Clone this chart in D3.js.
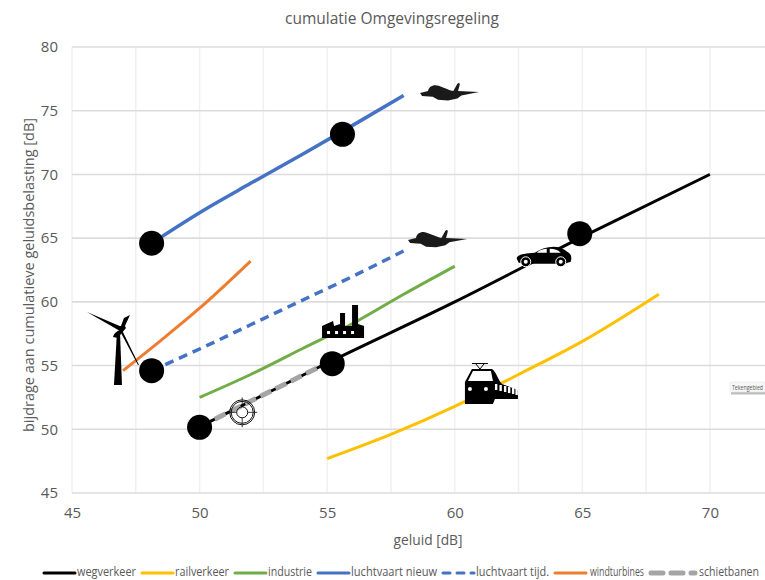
<!DOCTYPE html>
<html>
<head>
<meta charset="utf-8">
<script src="https://cdn.jsdelivr.net/npm/d3@7"></script>
<style>
  html, body { margin: 0; padding: 0; background: #fff; }
  svg { display: block; }
  text { font-family: "Open Sans", "Liberation Sans", sans-serif; fill: #595959; }
  .axis path { display: none; }
  .axis line { display: none; }
  .axis text { font-size: 15px; }
</style>
</head>
<body>
<div id="chart"></div>
<script>
// data
const xTicks = [45, 50, 55, 60, 65, 70]
const yTicks = [45, 50, 55, 60, 65, 70, 75, 80]
const xMinor = [47.5, 52.5, 57.5, 62.5, 67.5]

const wegverkeer = [[50, 50.2], [55, 55.2], [60, 60], [65, 65.1], [70, 70]]
const railverkeer = [[55, 47.7], [57.5, 49.6], [60, 51.8], [62.5, 54.3], [65, 56.9], [68, 60.6]]
const industrie = [[50, 52.5], [52, 54.3], [54, 56.3], [56, 58.3], [58, 60.6], [60, 62.8]]
const luchtvaartNieuw = [[48.12, 64.6], [50, 67], [52, 69.3], [54, 71.55], [56, 73.85], [58, 76.2]]
const luchtvaartTijd = [[48.12, 54.6], [50, 56.3], [52, 58.2], [54, 60.1], [56, 62], [58, 64]]
const windturbines = [[47, 54.6], [48.5, 57], [50, 59.5], [52, 63.2]]
const schietbanen = [[50, 50.2], [55, 55.2]]
const markers = [[48.12, 64.6], [55.6, 73.15], [48.12, 54.6], [50, 50.15], [55.2, 55.15], [64.9, 65.35]]

const seriesNames = ['wegverkeer', 'railverkeer', 'industrie', 'luchtvaart nieuw', 'luchtvaart tijd.', 'windturbines', 'schietbanen']
const seriesColors = ['#000000', '#ffc000', '#70ad47', '#4472c4', '#4472c4', '#ed7d31', '#a5a5a5']
const seriesData = [wegverkeer, railverkeer, industrie, luchtvaartNieuw, luchtvaartTijd, windturbines, schietbanen]
const seriesDash = [null, null, null, null, '9 6', null, '12 5']
const seriesWidth = [3, 3, 3, 3.5, 3.5, 3, 5]

const svg_width = 765
const svg_height = 580

const svg = d3.select('#chart').append('svg')
  .attr('width', svg_width).attr('height', svg_height)

const xScale = d3.scaleLinear([45, 72.16], [72, 765])
const yScale = d3.scaleLinear([45, 80], [493, 47])

// grid
svg.append('g').selectAll('line').data(xTicks.concat(xMinor)).join('line')
  .attr('x1', d => xScale(d)).attr('x2', d => xScale(d))
  .attr('y1', yScale(80)).attr('y2', yScale(45))
  .attr('stroke', '#f0f0f0').attr('stroke-width', 1.5)

svg.append('g').selectAll('line').data(yTicks).join('line')
  .attr('x1', 72).attr('x2', 765)
  .attr('y1', d => yScale(d)).attr('y2', d => yScale(d))
  .attr('stroke', '#dcdcdc').attr('stroke-width', 1.6)

// axes
svg.append('g').attr('class', 'axis')
  .attr('transform', `translate(0,${yScale(45)})`)
  .call(d3.axisBottom(xScale).tickValues(xTicks).tickSize(0).tickPadding(14))

svg.append('g').attr('class', 'axis')
  .attr('transform', 'translate(72,0)')
  .call(d3.axisLeft(yScale).tickValues(yTicks).tickSize(0).tickPadding(14))

svg.append('text').attr('x', 392).attr('y', 24).attr('text-anchor', 'middle')
  .attr('textLength', 214).attr('lengthAdjust', 'spacingAndGlyphs')
  .style('font-size', '17px').text('cumulatie Omgevingsregeling')

svg.append('text').attr('x', 428).attr('y', 545).attr('text-anchor', 'middle')
  .attr('textLength', 69).attr('lengthAdjust', 'spacingAndGlyphs')
  .style('font-size', '15px').text('geluid [dB]')

svg.append('text').attr('transform', 'translate(34,275) rotate(-90)').attr('text-anchor', 'middle')
  .attr('textLength', 314).attr('lengthAdjust', 'spacingAndGlyphs')
  .style('font-size', '15px').text('bijdrage aan cumulatieve geluidsbelasting [dB]')

// lines
const line = d3.line().x(d => xScale(d[0])).y(d => yScale(d[1])).curve(d3.curveMonotoneX)

svg.append('g').selectAll('path').data(seriesData).join('path')
  .attr('d', line)
  .attr('fill', 'none')
  .attr('stroke', (d, i) => seriesColors[i])
  .attr('stroke-width', (d, i) => seriesWidth[i])
  .attr('stroke-dasharray', (d, i) => seriesDash[i])

// icons, placed by their data position
function icon(x, y, k) {
  return svg.append('g').attr('transform', `translate(${xScale(x)},${yScale(y)}) scale(${k})`)
}

// windmolen
const wind = icon(46.88, 57.63, 1)
wind.append('path').attr('fill', '#000')
  .attr('d', 'M-3,0 L0,0 L2,53 L-6,53 Z')
wind.append('path').attr('fill', '#000')
  .attr('d', 'M-7,5 C-6,1 -3,-1 0,-2 L-1,-6 L1,-6 L4,-14 L10,-17 L5,-6 L6,-4 L1,2 L-2,6 Z')
wind.append('path').attr('fill', '#000')
  .attr('d', 'M-33,-20 L2,-5 L0,-1 Z')
wind.append('path').attr('fill', '#000')
  .attr('d', 'M0,-1 L2,-2 L19,33 L18,33 Z')

// vliegtuigen
const planePath = 'M0,30 L24,24 C26,10 40,3 56,8 L92,22 L100,24 L112,2 C117,-2 120,0 119,6 L114,24 L177,27 L124,37 L112,46 L84,52 L54,50 L38,41 L6,39 Z'
icon(58.64, 77.17, 1 / 3).append('path').attr('fill', '#1a1a1a').attr('d', planePath)
icon(58.17, 65.64, 1 / 3).append('path').attr('fill', '#1a1a1a').attr('d', planePath)

// fabriek
const factory = icon(54.8, 59.75, 1)
factory.append('path').attr('fill', '#000')
  .attr('d', 'M0,21 L11,16 L12,21 L18,19 L18,8 L23,8 L23,21 L30,21 L30,0 L36,0 L36,19 L42,21 L42,33 L0,33 Z')
factory.selectAll('rect').data([5, 13, 21, 29]).join('rect')
  .attr('x', d => d).attr('y', 26).attr('width', 3).attr('height', 3).attr('fill', '#fff')

// auto
const car = icon(62.43, 64.4, 1)
car.append('path').attr('fill', '#000')
  .attr('d', 'M0,13 C0,9 6,8 18,7 C24,3 30,1 37,1 C44,1 48,4 52,7 C55,9 55,13 54,16 L48,18 L12,18 L2,17 Z')
car.append('path').attr('fill', '#fff')
  .attr('d', 'M20,7 C23,4 27,3 30,3 L30,7 Z M33,3 C38,3 41,4 44,7 L33,7 Z')
car.selectAll('circle.w').data([9, 44]).join('circle').attr('class', 'w')
  .attr('cx', d => d).attr('cy', 16).attr('r', 5).attr('fill', '#000').attr('stroke', '#fff').attr('stroke-width', 1)
car.selectAll('circle.h').data([9, 44]).join('circle').attr('class', 'h')
  .attr('cx', d => d).attr('cy', 16).attr('r', 2).attr('fill', '#fff')

// trein
const train = icon(60.4, 55.2, 1)
train.append('path').attr('fill', 'none').attr('stroke', '#000').attr('stroke-width', 1)
  .attr('d', 'M7,0.5 L23,0.5 M11,1 L15,6 L19,1 M15,6 L15,9')
train.append('path').attr('fill', '#000')
  .attr('d', 'M7,6 L27,6 C31,8 33,17 37,21 L53,27 L53,36 L30,36 L28,41 L0,41 L0,19 Z')
train.append('path').attr('fill', '#fff')
  .attr('d', 'M8,8 L26,8 L28,18 L3,18 Z')
train.selectAll('rect').data([30, 34.5, 39, 43, 47, 50.5]).join('rect')
  .attr('x', d => d).attr('y', (d, i) => 21 + i * 1).attr('width', 2.4).attr('height', 6).attr('fill', '#fff')
train.selectAll('circle').data([5, 21]).join('circle')
  .attr('cx', d => d).attr('cy', 26).attr('r', 2).attr('fill', '#fff')

// doel
const target = icon(51.67, 51.33, 1).attr('fill', 'none').attr('stroke', '#111')
target.selectAll('circle').data([12.5, 11, 5.5]).join('circle')
  .attr('r', d => d).attr('stroke-width', 1)
target.append('path').attr('stroke-width', 0.8).attr('d', 'M-15,0 L-5.5,0 M5.5,0 L15,0 M0,-15 L0,-5.5 M0,5.5 L0,15')

// markers
svg.append('g').selectAll('circle').data(markers).join('circle')
  .attr('cx', d => xScale(d[0])).attr('cy', d => yScale(d[1])).attr('r', 12.5).attr('fill', '#000')

// legend
const legendLineX = [44, 142, 235, 318, 443, 555, 651]
const legendTextX = [77, 175, 268, 351, 476, 590, 699]
const legendTextW = [59, 54, 44, 86, 73, 54, 60]
const legendY = 573
const legend = svg.append('g')
seriesNames.forEach((name, i) => {
  const dash = seriesDash[i]
  legend.append('line')
    .attr('x1', legendLineX[i]).attr('x2', legendLineX[i] + (i === 6 ? 44 : 31))
    .attr('y1', legendY).attr('y2', legendY)
    .attr('stroke', seriesColors[i]).attr('stroke-width', seriesWidth[i] === 5 ? 5 : 3)
    .attr('stroke-linecap', 'round')
    .attr('stroke-dasharray', dash ? (i === 4 ? '7 7' : '12 8') : null)
  legend.append('text').attr('x', legendTextX[i]).attr('y', legendY + 3)
    .attr('textLength', legendTextW[i]).attr('lengthAdjust', 'spacingAndGlyphs')
    .style('font-size', '12px').text(name)
})

// Tekengebied tooltip
svg.append('rect').attr('x', 731).attr('y', 392).attr('width', 34).attr('height', 2.5).attr('fill', '#bdbdbd')
svg.append('rect').attr('x', 730).attr('y', 382).attr('width', 35).attr('height', 10)
  .attr('fill', '#f7f7f7').attr('stroke', '#e6e6e6').attr('stroke-width', 0.6).attr('rx', 1.5)
svg.append('text').attr('x', 732).attr('y', 390).attr('textLength', 31).attr('lengthAdjust', 'spacingAndGlyphs')
  .style('font-size', '8px').text('Tekengebied')
</script>
</body>
</html>
